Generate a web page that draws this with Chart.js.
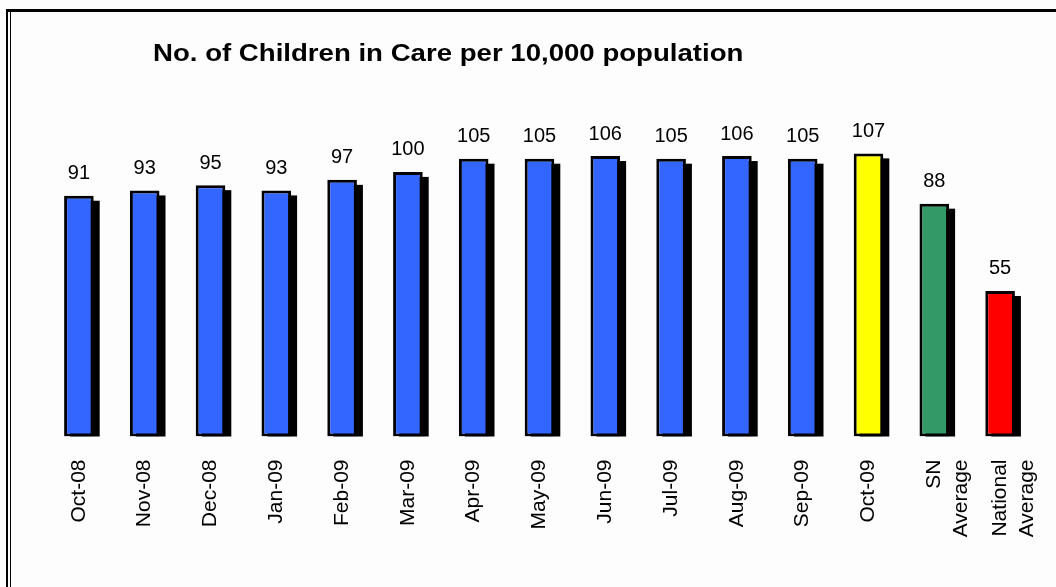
<!DOCTYPE html>
<html>
<head>
<meta charset="utf-8">
<script src="https://cdn.jsdelivr.net/npm/chart.js@4.4.0/dist/chart.umd.min.js"></script>
<style>
  html, body { margin: 0; padding: 0; background: #fdfdfd; }
  #wrap { position: relative; width: 1056px; height: 587px; overflow: hidden; background: #fdfdfd; }
  #c { position: absolute; left: 0; top: 0; }
  .ln { position: absolute; background: #000; }
  #title { position: absolute; left: 153px; top: 41px; font: bold 24px "Liberation Sans", Arial, sans-serif; line-height: 24px; color: #000; white-space: nowrap; transform: scaleX(1.15); transform-origin: 0 0; }
</style>
</head>
<body>
<div id="wrap">
  <canvas id="c" width="1056" height="587"></canvas>
  <div class="ln" style="left:6px;top:9px;width:2px;height:578px"></div>
  <div class="ln" style="left:10px;top:9px;width:1px;height:578px"></div>
  <div class="ln" style="left:6px;top:9px;width:1050px;height:3px"></div>
  <div id="title">No. of Children in Care per 10,000 population</div>
</div>
<script>
const categories = [
  "Oct-08", "Nov-08", "Dec-08", "Jan-09", "Feb-09", "Mar-09", "Apr-09",
  "May-09", "Jun-09", "Jul-09", "Aug-09", "Sep-09", "Oct-09",
  ["SN", "Average"], ["National", "Average"]
];
const values = [91, 93, 95, 93, 97, 100, 105, 105, 106, 105, 106, 105, 107, 88, 55];
const barColors = [
  "#3366FF", "#3366FF", "#3366FF", "#3366FF", "#3366FF", "#3366FF", "#3366FF",
  "#3366FF", "#3366FF", "#3366FF", "#3366FF", "#3366FF", "#FFFF00",
  "#339966", "#FF0000"
];
const yMin = 0;
const yMax = 120;

const shadowPlugin = {
  id: "barShadow",
  beforeDatasetsDraw(chart) {
    const ctx = chart.ctx;
    const meta = chart.getDatasetMeta(0);
    ctx.save();
    ctx.fillStyle = "#000";
    meta.data.forEach(bar => {
      const p = bar.getProps(["x", "y", "base", "width"], true);
      ctx.fillRect(p.x - p.width / 2 + 6, p.y + 5, p.width, p.base - p.y - 5);
    });
    ctx.restore();
  }
};

const valueLabelPlugin = {
  id: "valueLabels",
  afterDatasetsDraw(chart) {
    const ctx = chart.ctx;
    const meta = chart.getDatasetMeta(0);
    const data = chart.data.datasets[0].data;
    ctx.save();
    ctx.fillStyle = "#000";
    ctx.font = '20px "Liberation Sans", Arial, sans-serif';
    ctx.textAlign = "center";
    ctx.textBaseline = "middle";
    meta.data.forEach((bar, i) => {
      const p = bar.getProps(["x", "y"], true);
      ctx.fillText(String(data[i]), p.x, p.y - 22);
    });
    ctx.restore();
  }
};

new Chart(document.getElementById("c"), {
  type: "bar",
  data: {
    labels: categories,
    datasets: [{
      data: values,
      backgroundColor: barColors,
      borderColor: "#000",
      borderWidth: 3,
      borderSkipped: false,
      barPercentage: 0.45,
      categoryPercentage: 1.0
    }]
  },
  options: {
    responsive: false,
    animation: false,
    devicePixelRatio: 1,
    layout: { padding: { left: 46, right: 23, top: 119, bottom: 0 } },
    plugins: {
      legend: { display: false },
      title: { display: false },
      tooltip: { enabled: false }
    },
    scales: {
      x: {
        grid: { display: false, drawTicks: false },
        border: { display: false },
        ticks: {
          autoSkip: false,
          maxRotation: 90,
          minRotation: 90,
          padding: 23,
          color: "#000",
          font: { family: '"Liberation Sans", Arial, sans-serif', size: 21, lineHeight: 1.3 }
        },
        afterFit(scale) {
          scale.height = 150.5;
          scale.paddingLeft = 0;
          scale.paddingRight = 0;
        }
      },
      y: {
        display: false,
        min: yMin,
        max: yMax
      }
    }
  },
  plugins: [shadowPlugin, valueLabelPlugin]
});
</script>
</body>
</html>
